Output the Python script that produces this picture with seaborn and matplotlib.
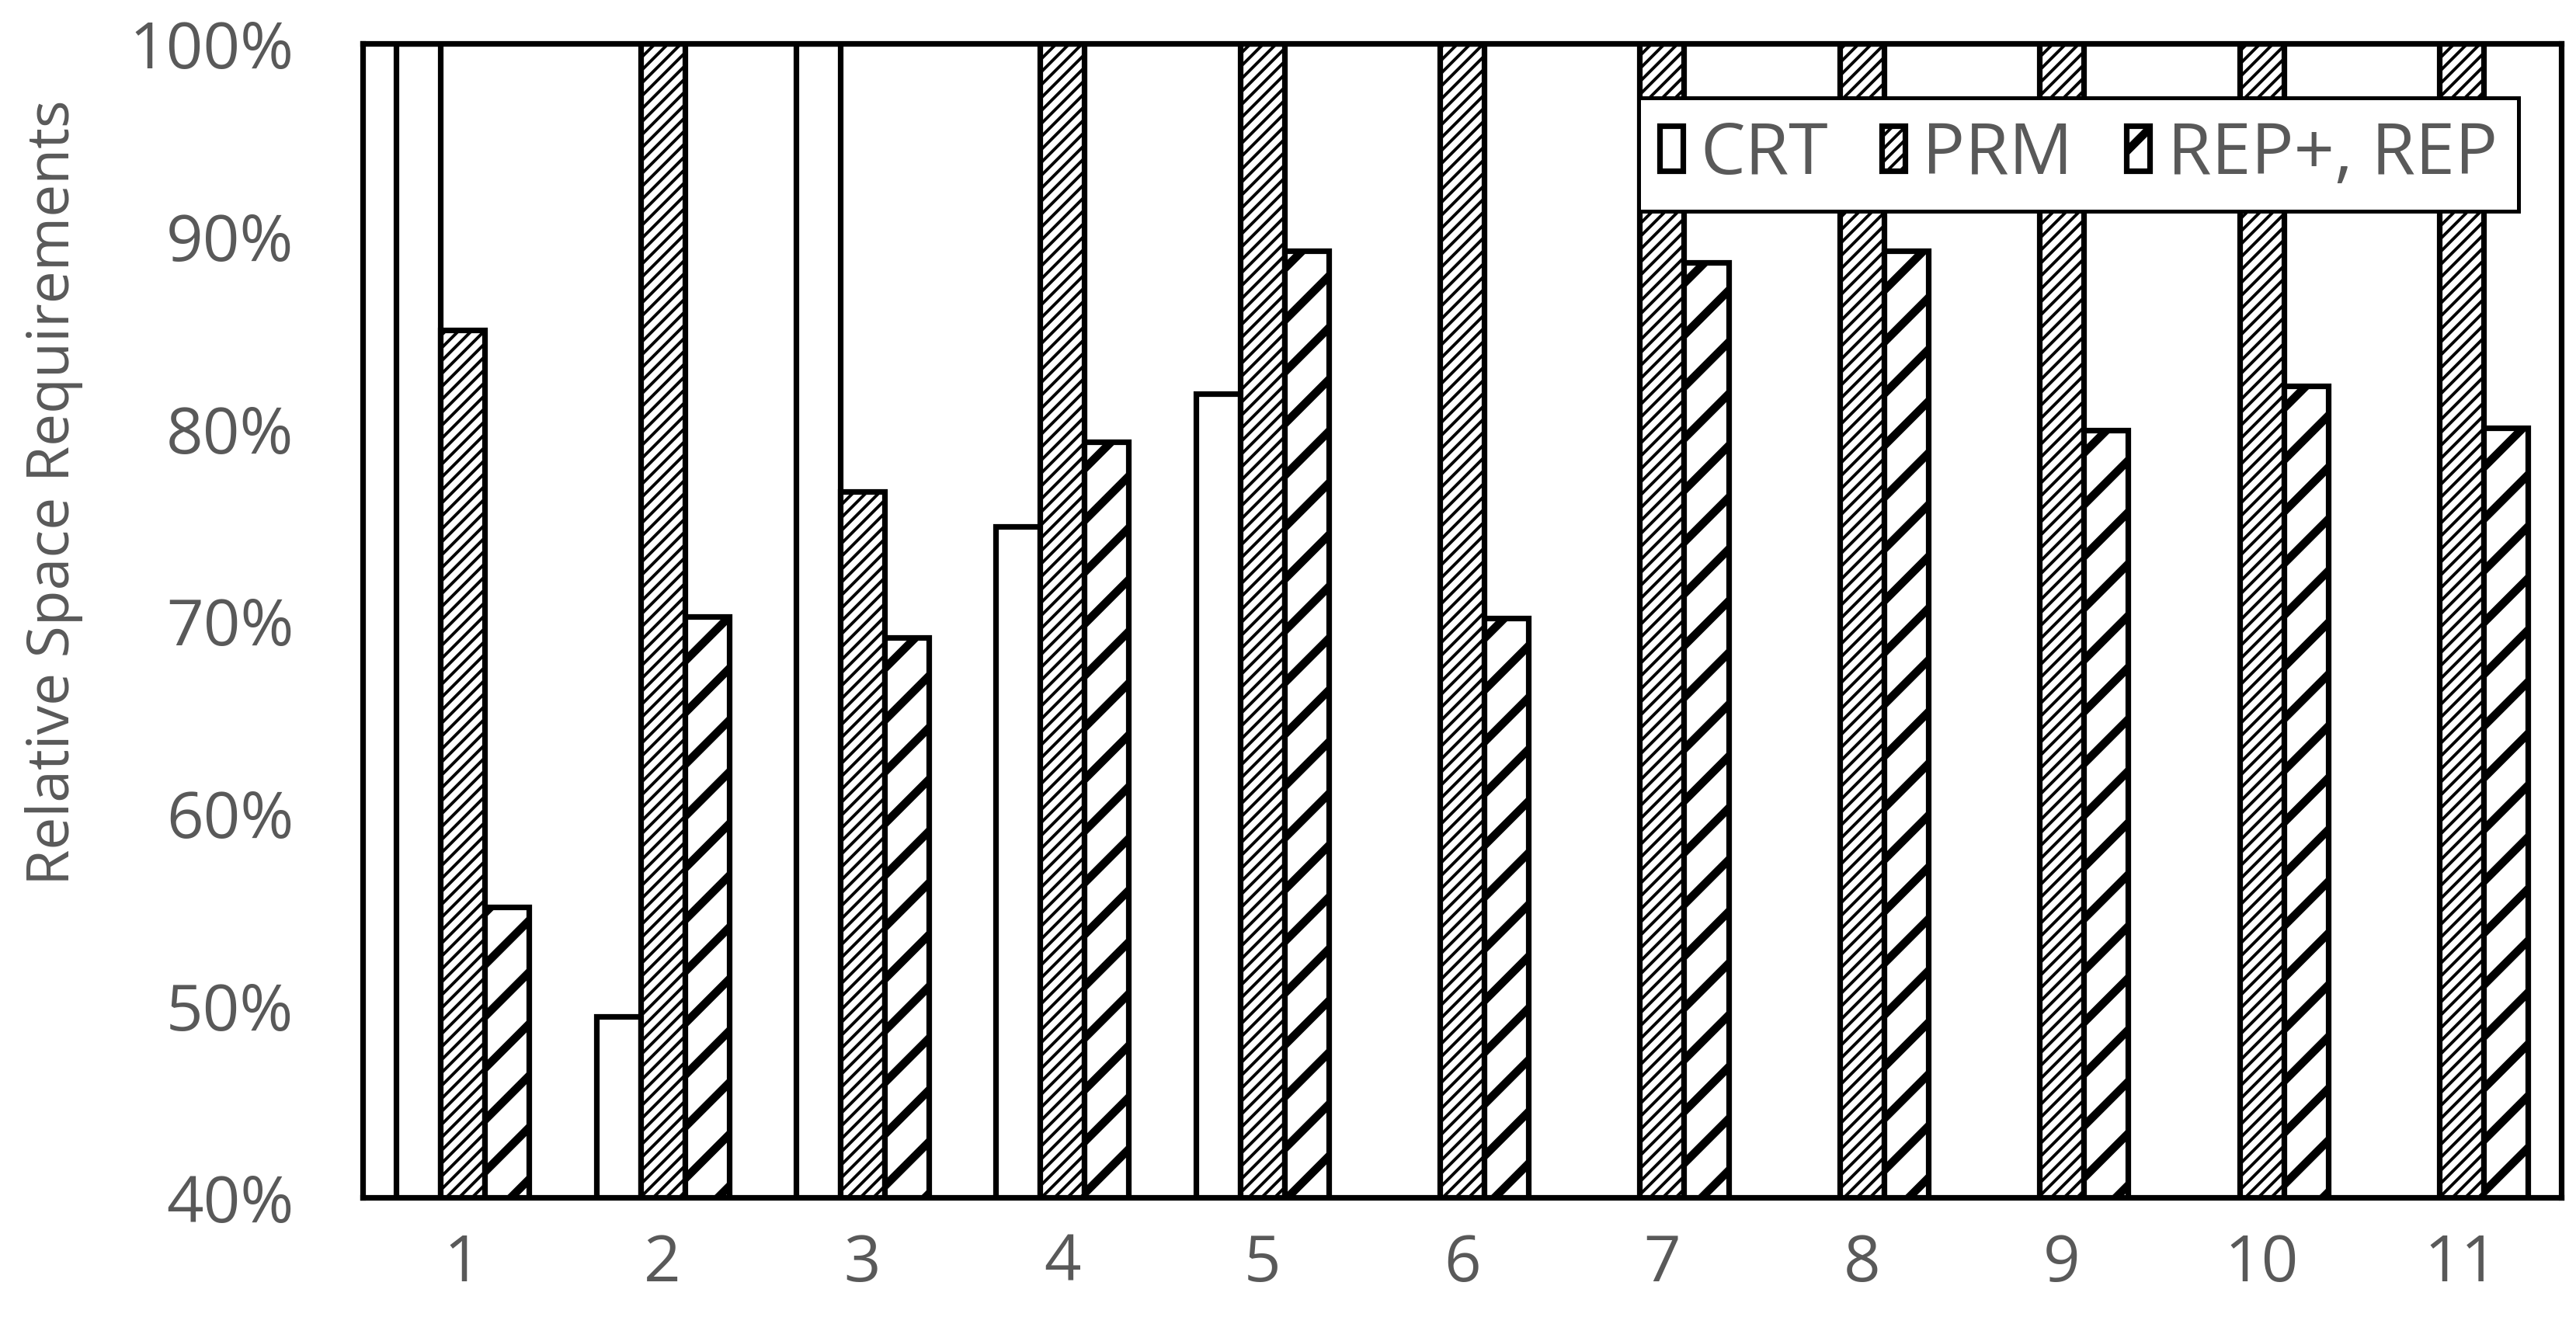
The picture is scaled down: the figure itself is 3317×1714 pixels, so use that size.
import numpy as np
import pandas as pd
import seaborn as sns
import matplotlib.pyplot as plt
import matplotlib.patches as mpatches
from matplotlib.ticker import FuncFormatter

# =============================================================================
# DATA (in %)
# =============================================================================
groups = [str(i) for i in range(1, 12)]
methods = ["CRT", "PRM", "REP+, REP"]

crt = [100, 49.4, 100, 74.9, 81.8, np.nan, np.nan, np.nan, np.nan, np.nan, np.nan]
prm = [85.1, 100, 76.7, 100, 100, 100, 100, 100, 100, 100, 100]
rep = [55.1, 70.2, 69.1, 79.3, 89.2, 70.1, 88.6, 89.2, 79.9, 82.2, 80.0]

y_ticks = [40, 50, 60, 70, 80, 90, 100]

# =============================================================================
# STYLE
# =============================================================================
sns.set_theme(style="white")
plt.rcParams["font.family"] = ["Open Sans", "DejaVu Sans"]

TEXT_GRAY = "#595959"
EDGE_LW = 2.6
HATCHES = {"CRT": "", "PRM": "////", "REP+, REP": "/"}
HATCH_LW = {"CRT": 1.0, "PRM": 1.4, "REP+, REP": 3.8}

df = pd.DataFrame(
    {
        "Group": groups * 3,
        "Method": [m for m in methods for _ in groups],
        "Value": crt + prm + rep,
    }
)


def style_patch(p, method):
    """Set hatch and make the hatch line width stick for this patch only."""
    p.set_hatch(HATCHES[method])
    lw = HATCH_LW[method]
    if hasattr(p, "set_hatch_linewidth"):
        p.set_hatch_linewidth(lw)
    orig_draw = p.draw

    def draw(renderer, _orig=orig_draw, _lw=lw):
        with plt.rc_context({"hatch.linewidth": _lw}):
            _orig(renderer)

    p.draw = draw


fig, ax = plt.subplots(figsize=(16.585, 8.575), dpi=200)
fig.subplots_adjust(left=0.1408, right=0.9943, top=0.9668, bottom=0.1003)

sns.barplot(
    data=df,
    x="Group",
    y="Value",
    hue="Method",
    order=groups,
    hue_order=methods,
    palette=["white"] * 3,
    edgecolor="black",
    linewidth=EDGE_LW,
    width=0.665,
    errorbar=None,
    legend=False,
    ax=ax,
)

for cont, m in zip(ax.containers, methods):
    for p in cont.patches:
        style_patch(p, m)

ax.set_ylim(40, 100)
ax.set_xlim(-0.5, 10.5)
ax.set_yticks(y_ticks)
ax.yaxis.set_major_formatter(FuncFormatter(lambda v, _: f"{v:.0f}%"))
ax.set_xlabel("")
ax.set_ylabel("")

for s in ax.spines.values():
    s.set_visible(True)
    s.set_color("black")
    s.set_linewidth(EDGE_LW)
    s.set_zorder(5)

ax.tick_params(axis="both", length=0, labelsize=30, labelcolor=TEXT_GRAY)
ax.tick_params(axis="y", pad=32)
ax.tick_params(axis="x", pad=16)

fig.text(
    0.0211,
    0.630,
    "Relative Space Requirements",
    rotation=90,
    ha="center",
    va="center",
    fontsize=27,
    color=TEXT_GRAY,
)

# legend with the same hatch styles
handles = [
    mpatches.Patch(facecolor="white", edgecolor="black", linewidth=EDGE_LW,
                   hatch=HATCHES[m], label=m)
    for m in methods
]

leg = ax.legend(
    handles=handles,
    loc="upper right",
    bbox_to_anchor=(0.9806, 0.9529),
    borderaxespad=0,
    ncol=3,
    fontsize=33,
    frameon=True,
    fancybox=False,
    edgecolor="black",
    framealpha=1,
    handlelength=0.32,
    handleheight=0.6,
    handletextpad=0.25,
    columnspacing=0.75,
    borderpad=0.3,
)
leg.get_frame().set_linewidth(1.8)
leg.set_zorder(6)
for t in leg.get_texts():
    t.set_color(TEXT_GRAY)
for h, m in zip(leg.legend_handles, methods):
    style_patch(h, m)

fig.savefig("out.png", dpi=200)
plt.close(fig)
